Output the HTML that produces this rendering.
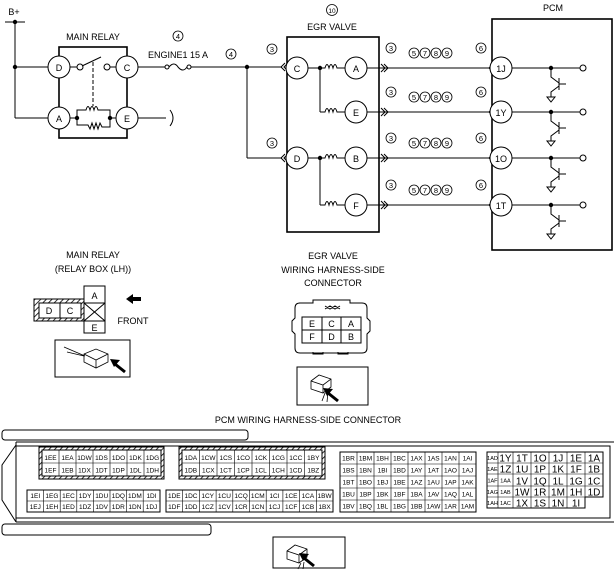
<!DOCTYPE html>
<html><head><meta charset="utf-8"><style>
html,body{margin:0;padding:0;background:#fff;}
svg{display:block;font-family:"Liberation Sans",sans-serif;}
.t{font-size:9px;fill:#000;}
.c{font-size:6.5px;fill:#000;}
.b{font-size:10px;fill:#000;}
</style></head><body>
<svg width="616" height="573" viewBox="0 0 616 573" xmlns="http://www.w3.org/2000/svg">
<defs>
<pattern id="h" width="4" height="4" patternUnits="userSpaceOnUse" patternTransform="rotate(45)">
<rect width="4" height="4" fill="#fff"/><line x1="0" y1="0" x2="0" y2="4" stroke="#000" stroke-width="1.6"/></pattern>
</defs>
<g fill="none" stroke="#000" stroke-width="1">
<line x1="5" y1="22" x2="25" y2="22"/>
<line x1="15" y1="22" x2="15" y2="118"/>
<line x1="15" y1="67" x2="48" y2="67"/>
<line x1="15" y1="118" x2="48" y2="118"/>
<rect x="59" y="47" width="68" height="91" stroke-width="1.6"/>
<line x1="70" y1="67" x2="77" y2="67"/><circle cx="80" cy="67" r="3"/>
<line x1="82" y1="66" x2="101" y2="57"/><circle cx="107" cy="67" r="3"/><line x1="110" y1="67" x2="116" y2="67"/>
<line x1="93" y1="62" x2="93" y2="106" stroke-dasharray="4,2"/>
<line x1="70" y1="118" x2="77" y2="118"/><line x1="110" y1="118" x2="116" y2="118"/>
<path d="M77 118V110H86 q2,-7 4,0 q2,-7 4,0 q2,-7 4,0 H110V127H102 l-2,-4 -2,6 -2,-6 -2,6 -2,-6 -2,6 -2,-4 H77V118"/>
<line x1="138" y1="118" x2="166" y2="118"/>
<path d="M170 110 q6,8 0,16"/>
<line x1="138" y1="67" x2="165" y2="67"/>
<circle cx="167" cy="67" r="2"/><path d="M169 67 q5,-6 9,0 q5,6 9,0"/><circle cx="189" cy="67" r="2"/>
<line x1="191" y1="67" x2="282" y2="67"/>
<line x1="247" y1="67" x2="247" y2="158"/><line x1="247" y1="158" x2="282" y2="158"/>
<rect x="287" y="37" width="92" height="195" stroke-width="1.6"/>
<path d="M285 63l-4 4 4 4M288 63l-4 4 4 4M285 154l-4 4 4 4M288 154l-4 4 4 4"/>
<line x1="308" y1="68" x2="318" y2="68"/><line x1="308" y1="158" x2="318" y2="158"/>
<line x1="320" y1="68" x2="320" y2="112"/><line x1="320" y1="158" x2="320" y2="205"/>
<path d="M320 68h5 q2,-7 4,0 q2,-7 4,0 q2,-7 4,0 h8"/>
<path d="M320 112h5 q2,-7 4,0 q2,-7 4,0 q2,-7 4,0 h8"/>
<path d="M320 158h5 q2,-7 4,0 q2,-7 4,0 q2,-7 4,0 h8"/>
<path d="M320 205h5 q2,-7 4,0 q2,-7 4,0 q2,-7 4,0 h8"/>
<g id="w">
<path d="M381 64l4 4-4 4M384 64l4 4-4 4M493 64l-4 4 4 4M496 64l-4 4 4 4"/>
<line x1="367" y1="68" x2="490" y2="68"/>
<line x1="512" y1="68" x2="580" y2="68"/><circle cx="583" cy="68" r="3"/>
<path d="M551 68v9l8 6M559 78v12M559 84h7M559 86l-8 6v5"/><path d="M547 97h8l-4 5z"/>
</g>
<use href="#w" y="44"/><use href="#w" y="90"/><use href="#w" y="137"/>
<rect x="492" y="19" width="120" height="231" stroke-width="1.6"/>
<g fill="#fff">
<circle cx="59" cy="67" r="11"/><circle cx="127" cy="67" r="11"/><circle cx="59" cy="118" r="11"/><circle cx="127" cy="118" r="11"/>
<circle cx="297" cy="68" r="11"/><circle cx="297" cy="158" r="11"/>
<circle cx="356" cy="68" r="11"/><circle cx="356" cy="112" r="11"/><circle cx="356" cy="158" r="11"/><circle cx="356" cy="205" r="11"/>
<circle cx="501" cy="68" r="11"/><circle cx="501" cy="112" r="11"/><circle cx="501" cy="158" r="11"/><circle cx="501" cy="205" r="11"/>
</g>
</g>
<g fill="#000">
<circle cx="15" cy="22" r="2.2"/><circle cx="15" cy="67" r="2.2"/><circle cx="77" cy="118" r="2.2"/><circle cx="110" cy="118" r="2.2"/>
<circle cx="247" cy="67" r="2.2"/><circle cx="320" cy="68" r="2.2"/><circle cx="320" cy="158" r="2.2"/>
<circle cx="551" cy="68" r="2.2"/><circle cx="551" cy="112" r="2.2"/><circle cx="551" cy="158" r="2.2"/><circle cx="551" cy="205" r="2.2"/>
</g>
<g class="t" text-anchor="middle">
<text x="14" y="15">B+</text>
<text x="93" y="40">MAIN RELAY</text>
<text x="59" y="71">D</text><text x="127" y="71">C</text><text x="59" y="122">A</text><text x="127" y="122">E</text>
<text x="178" y="58">ENGINE1 15 A</text>
<text x="332" y="30">EGR VALVE</text>
<text x="553" y="11">PCM</text>
<text x="297" y="72">C</text><text x="297" y="162">D</text>
<text x="356" y="72">A</text><text x="356" y="116">E</text><text x="356" y="162">B</text><text x="356" y="209">F</text>
<text x="501" y="72">1J</text><text x="501" y="116">1Y</text><text x="501" y="162">1O</text><text x="501" y="209">1T</text>
</g>
<g fill="none" stroke="#000" stroke-width="0.8">
<circle cx="178" cy="36" r="5"/><circle cx="231" cy="54" r="5"/><circle cx="272" cy="49" r="5"/><circle cx="272" cy="143" r="5"/>
<circle cx="332" cy="10" r="5.5"/>
</g>
<g font-size="7.5" text-anchor="middle">
<text x="178" y="39">4</text><text x="231" y="57">4</text><text x="272" y="52">3</text><text x="272" y="146">3</text>
<text x="332" y="13" font-size="6.5">10</text>
</g>
<g id="n">
<g fill="none" stroke="#000" stroke-width="0.8">
<circle cx="391" cy="48" r="5"/><circle cx="414" cy="53" r="5"/><circle cx="425" cy="53" r="5"/><circle cx="436" cy="53" r="5"/><circle cx="447" cy="53" r="5"/><circle cx="481" cy="48" r="5"/>
</g>
<g font-size="7.5" text-anchor="middle">
<text x="391" y="51">3</text><text x="414" y="56">5</text><text x="425" y="56">7</text><text x="436" y="56">8</text><text x="447" y="56">9</text><text x="481" y="51">6</text>
</g>
</g>
<use href="#n" y="44"/><use href="#n" y="90"/><use href="#n" y="137"/>

<g class="t" text-anchor="middle">
<text x="93" y="258">MAIN RELAY</text>
<text x="93" y="272">(RELAY BOX (LH))</text>
<text x="333" y="259">EGR VALVE</text>
<text x="333" y="273">WIRING HARNESS-SIDE</text>
<text x="333" y="286">CONNECTOR</text>
<text x="133" y="324">FRONT</text>
<text x="308" y="423">PCM WIRING HARNESS-SIDE CONNECTOR</text>
</g>
<g stroke="#000" fill="none" stroke-width="1">
<rect x="34" y="299" width="50" height="22" fill="url(#h)"/>
<rect x="39" y="303" width="42" height="15" fill="#fff"/><line x1="60" y1="303" x2="60" y2="318"/>
<rect x="84" y="286" width="21" height="47" fill="#fff"/>
<line x1="84" y1="303" x2="105" y2="303"/><line x1="84" y1="321" x2="105" y2="321"/>
<line x1="84" y1="303" x2="105" y2="321"/><line x1="105" y1="303" x2="84" y2="321"/>
<rect x="55" y="340" width="75" height="37"/>
<rect x="297" y="367" width="71" height="38"/>
<rect x="273" y="537" width="72" height="31"/>
<path d="M299 303h14v-3h37v3h12q5,0 5,5v10l3,3v10l-3,3v14q0,5-5,5h-62q-5,0-5-5v-14l-3-3v-10l3-3v-10q0-5 5-5z"/>
<rect x="302" y="317" width="59" height="26"/>
<line x1="302" y1="330" x2="361" y2="330"/><line x1="322" y1="317" x2="322" y2="343"/><line x1="341" y1="317" x2="341" y2="343"/>
<path d="M325 306l5 3 5-3 5 3M325 309l5-3 5 3 5-3"/>
<path d="M313 352v2h10v-2M338 352v2h10v-2"/>
</g>
<g class="t" text-anchor="middle">
<text x="49" y="314">D</text><text x="70" y="314">C</text><text x="94.5" y="299">A</text><text x="94.5" y="331">E</text>
<text x="312" y="327">E</text><text x="331.5" y="327">C</text><text x="351" y="327">A</text>
<text x="312" y="340">F</text><text x="331.5" y="340">D</text><text x="351" y="340">B</text>
</g>
<path d="M126 299l7-5v3h8v4h-8v3z" fill="#000"/>
<!-- photo sketches -->
<g stroke="#000" fill="none" stroke-width="0.8">
<path d="M84 354l12-5 12 5v8l-12 6-12-6z" fill="#fff"/><path d="M84 354l12 6 12-6M96 360v8"/>
<path d="M64 347l21 9M67 352l17 4"/>
<path d="M311 381l8-6 12 4v8l-8 6-12-4z" fill="#fff"/><path d="M311 381l12 4 8-6M323 385v8"/>
<path d="M325 393l-3 8M328 392l-1 10"/>
<path d="M287 551l8-6 12 4v8l-8 6-12-4z" fill="#fff"/><path d="M287 551l12 4 8-6M299 555v8"/>
<path d="M301 563l-3 6M304 562l-1 7"/>
</g>
<g stroke="#000" stroke-width="3">
<line x1="125" y1="372" x2="115" y2="364"/>
<line x1="338" y1="401" x2="328" y2="393"/>
<line x1="314" y1="566" x2="304" y2="558"/>
</g>
<g fill="#000">
<path d="M110 359l10 1-6 7z"/>
<path d="M323 388l10 1-6 7z"/>
<path d="M299 553l10 1-6 7z"/>
</g>

<g stroke="#000" fill="none" stroke-width="1">
<rect x="2" y="430" width="246" height="10" rx="3"/>
<rect x="2" y="524" width="209" height="11" rx="3"/>
<path d="M16 442H614M16 446H610V518H16M16 522H614M16 442V522M16 445L2 465V500L16 522"/>
<rect x="39" y="447" width="125" height="32" fill="url(#h)"/>
<rect x="42" y="450" width="119" height="26" fill="#fff"/>
<rect x="179" y="447" width="146" height="32" fill="url(#h)"/>
<rect x="182" y="450" width="140" height="26" fill="#fff"/>
<rect x="27" y="490" width="133" height="22"/>
<rect x="166" y="490" width="167" height="22"/>
<rect x="340" y="452" width="136" height="60"/>
<path d="M487 452h116v45h-18v11h-98z"/>
</g>
<g stroke="#000" stroke-width="0.6">
<path d="M42 463H161M59 450V476M76 450V476M93 450V476M110 450V476M127 450V476M144 450V476"/>
<path d="M182 463H322M199.5 450V476M217 450V476M234.5 450V476M252 450V476M269.5 450V476M287 450V476M304.5 450V476"/>
<path d="M27 501H160M43.6 490V512M60.2 490V512M76.8 490V512M93.4 490V512M110 490V512M126.6 490V512M143.2 490V512"/>
<path d="M166 501H333M182.7 490V512M199.4 490V512M216.1 490V512M232.8 490V512M249.5 490V512M266.2 490V512M282.9 490V512M299.6 490V512M316.3 490V512"/>
<path d="M340 464H476M340 476H476M340 488H476M340 500H476M357 452V512M374 452V512M391 452V512M408 452V512M425 452V512M442 452V512M459 452V512"/>
<path d="M487 463H603M487 474H603M487 486H603M487 497H585M498 452V508M513 452V508M531 452V508M549 452V508M567 452V508M585 452V497"/>
</g>
<g class="c" text-anchor="middle">
<g transform="translate(0,460)"><text x="50.5">1EE</text><text x="67.5">1EA</text><text x="84.5">1DW</text><text x="101.5">1DS</text><text x="118.5">1DO</text><text x="135.5">1DK</text><text x="152.5">1DG</text></g>
<g transform="translate(0,472.5)"><text x="50.5">1EF</text><text x="67.5">1EB</text><text x="84.5">1DX</text><text x="101.5">1DT</text><text x="118.5">1DP</text><text x="135.5">1DL</text><text x="152.5">1DH</text></g>
<g transform="translate(0,460)"><text x="190.8">1DA</text><text x="208.3">1CW</text><text x="225.8">1CS</text><text x="243.3">1CO</text><text x="260.8">1CK</text><text x="278.3">1CG</text><text x="295.8">1CC</text><text x="313.3">1BY</text></g>
<g transform="translate(0,472.5)"><text x="190.8">1DB</text><text x="208.3">1CX</text><text x="225.8">1CT</text><text x="243.3">1CP</text><text x="260.8">1CL</text><text x="278.3">1CH</text><text x="295.8">1CD</text><text x="313.3">1BZ</text></g>
<g transform="translate(0,498)"><text x="35.3">1EI</text><text x="51.9">1EG</text><text x="68.5">1EC</text><text x="85.1">1DY</text><text x="101.7">1DU</text><text x="118.3">1DQ</text><text x="134.9">1DM</text><text x="151.5">1DI</text></g>
<g transform="translate(0,509)"><text x="35.3">1EJ</text><text x="51.9">1EH</text><text x="68.5">1ED</text><text x="85.1">1DZ</text><text x="101.7">1DV</text><text x="118.3">1DR</text><text x="134.9">1DN</text><text x="151.5">1DJ</text></g>
<g transform="translate(0,498)"><text x="174.3">1DE</text><text x="191">1DC</text><text x="207.7">1CY</text><text x="224.4">1CU</text><text x="241.1">1CQ</text><text x="257.8">1CM</text><text x="274.5">1CI</text><text x="291.2">1CE</text><text x="307.9">1CA</text><text x="324.6">1BW</text></g>
<g transform="translate(0,509)"><text x="174.3">1DF</text><text x="191">1DD</text><text x="207.7">1CZ</text><text x="224.4">1CV</text><text x="241.1">1CR</text><text x="257.8">1CN</text><text x="274.5">1CJ</text><text x="291.2">1CF</text><text x="307.9">1CB</text><text x="324.6">1BX</text></g>
<g transform="translate(0,460.5)"><text x="348.5">1BR</text><text x="365.5">1BM</text><text x="382.5">1BH</text><text x="399.5">1BC</text><text x="416.5">1AX</text><text x="433.5">1AS</text><text x="450.5">1AN</text><text x="467.5">1AI</text></g>
<g transform="translate(0,472.5)"><text x="348.5">1BS</text><text x="365.5">1BN</text><text x="382.5">1BI</text><text x="399.5">1BD</text><text x="416.5">1AY</text><text x="433.5">1AT</text><text x="450.5">1AO</text><text x="467.5">1AJ</text></g>
<g transform="translate(0,484.5)"><text x="348.5">1BT</text><text x="365.5">1BO</text><text x="382.5">1BJ</text><text x="399.5">1BE</text><text x="416.5">1AZ</text><text x="433.5">1AU</text><text x="450.5">1AP</text><text x="467.5">1AK</text></g>
<g transform="translate(0,496.5)"><text x="348.5">1BU</text><text x="365.5">1BP</text><text x="382.5">1BK</text><text x="399.5">1BF</text><text x="416.5">1BA</text><text x="433.5">1AV</text><text x="450.5">1AQ</text><text x="467.5">1AL</text></g>
<g transform="translate(0,508.5)"><text x="348.5">1BV</text><text x="365.5">1BQ</text><text x="382.5">1BL</text><text x="399.5">1BG</text><text x="416.5">1BB</text><text x="433.5">1AW</text><text x="450.5">1AR</text><text x="467.5">1AM</text></g>
<g font-size="5.5">
<text x="492.5" y="460">1AD</text><text x="492.5" y="471">1AE</text><text x="492.5" y="482.5">1AF</text><text x="505.5" y="482.5">1AA</text>
<text x="492.5" y="494">1AG</text><text x="505.5" y="494">1AB</text><text x="492.5" y="505">1AH</text><text x="505.5" y="505">1AC</text>
</g>
</g>
<g class="b" text-anchor="middle">
<g transform="translate(0,461.5)"><text x="505.5">1Y</text><text x="522">1T</text><text x="540">1O</text><text x="558">1J</text><text x="576">1E</text><text x="594">1A</text></g>
<g transform="translate(0,472.5)"><text x="505.5">1Z</text><text x="522">1U</text><text x="540">1P</text><text x="558">1K</text><text x="576">1F</text><text x="594">1B</text></g>
<g transform="translate(0,484.5)"><text x="522">1V</text><text x="540">1Q</text><text x="558">1L</text><text x="576">1G</text><text x="594">1C</text></g>
<g transform="translate(0,495.5)"><text x="522">1W</text><text x="540">1R</text><text x="558">1M</text><text x="576">1H</text><text x="594">1D</text></g>
<g transform="translate(0,506.5)"><text x="522">1X</text><text x="540">1S</text><text x="558">1N</text><text x="576">1I</text></g>
</g>
</svg>
</body></html>
